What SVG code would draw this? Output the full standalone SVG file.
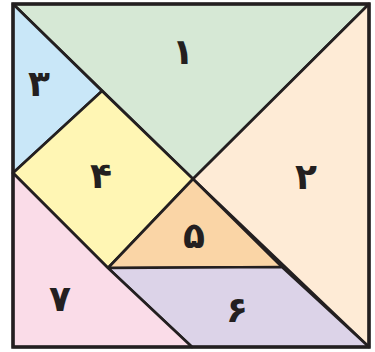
<svg xmlns="http://www.w3.org/2000/svg" width="375" height="352" viewBox="0 0 375 352">
<style>
.p{stroke:#231f20;stroke-width:2.6;stroke-linejoin:round}
.t{font-family:"DejaVu Sans","Noto Sans",sans-serif;font-weight:bold;font-size:36px;fill:#231f20;text-anchor:middle;dominant-baseline:central}
</style>
<rect width="375" height="352" fill="#ffffff"/>
<g id="piece1"><polygon class="p" fill="#d6e8d5" points="13,4 369,4 193,179"/><text class="t" x="183" y="51">۱</text></g>
<g id="piece2"><polygon class="p" fill="#feebd6" points="369,4 369,347 193,179"/><text class="t" x="306" y="176">۲</text></g>
<g id="piece3"><polygon class="p" fill="#c9e7f8" points="13,4 102,91 13,173"/><text class="t" x="39" y="83">۳</text></g>
<g id="piece4"><polygon class="p" fill="#fff6b4" points="102,91 193,179 108,268 13,173"/><text class="t" x="101" y="175">۴</text></g>
<g id="piece5"><polygon class="p" fill="#fad5a6" points="193,179 282,267 108,268"/><text class="t" x="194" y="235">۵</text></g>
<g id="piece6"><polygon class="p" fill="#dcd3e8" points="108,268 282,267 369,347 192,347"/><text class="t" x="237" y="309">۶</text></g>
<g id="piece7"><polygon class="p" fill="#fadce8" points="13,173 108,268 192,347 13,347"/><text class="t" x="60" y="298">۷</text></g>
<g id="connectors"><rect x="13" y="4" width="356" height="343" fill="none" stroke="#231f20" stroke-width="3.5"/></g>
</svg>
